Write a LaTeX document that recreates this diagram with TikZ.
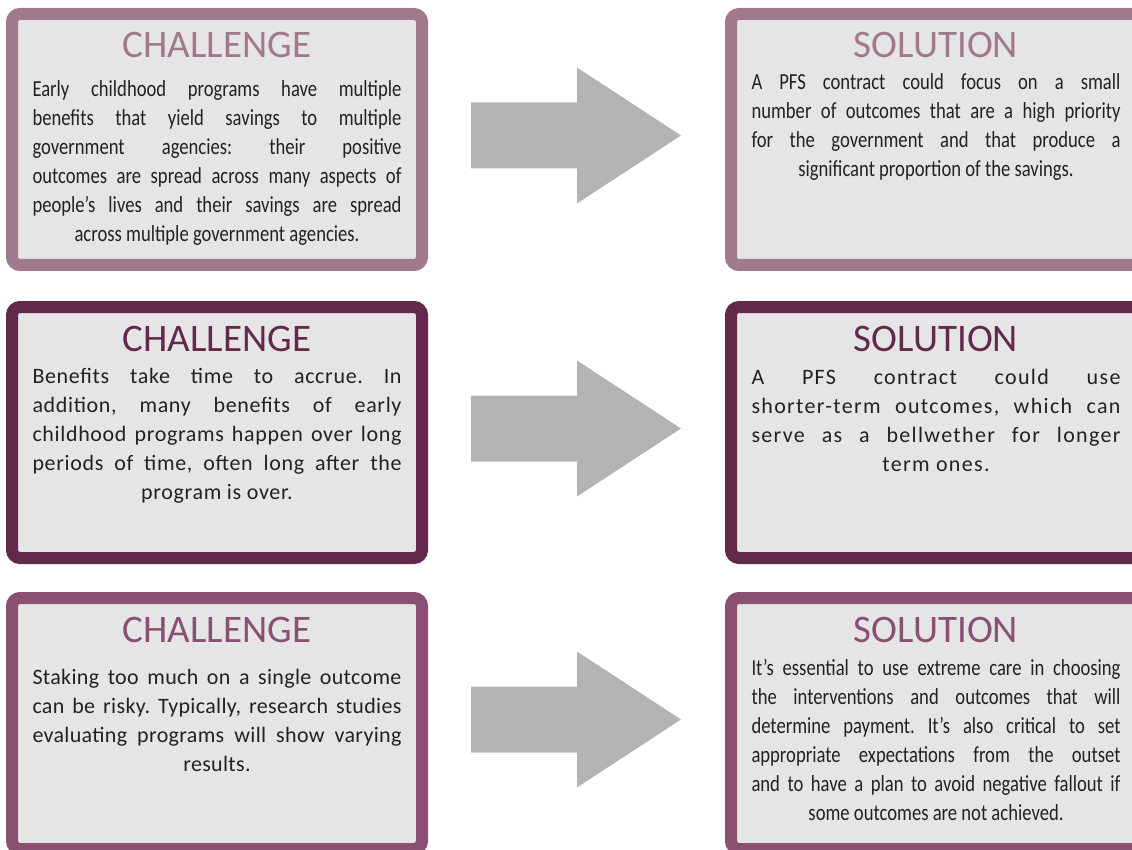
\documentclass[tikz,border=0pt]{standalone}
\usepackage{fontspec}
\usepackage{tikz}
\usetikzlibrary{calc,positioning}
\newfontfamily\headfont{Carlito}
\newfontfamily\narrowfont[FakeStretch=0.81]{Carlito}
\newfontfamily\midfont[LetterSpace=1.5]{Carlito}
\newfontfamily\widefont[LetterSpace=3]{Carlito}
\newfontfamily\widerfont[LetterSpace=6]{Carlito}
\definecolor{mauve}{HTML}{A07A8C}
\definecolor{plum}{HTML}{63294C}
\definecolor{berry}{HTML}{8A5073}
\definecolor{panel}{HTML}{E5E5E5}
\definecolor{arrowgray}{HTML}{B3B3B3}
\definecolor{ink}{HTML}{222222}
% one justified line, one centred line
\newcommand{\jl}[1]{\hbox to 369pt{#1}}
\newcommand{\cl}[1]{\hbox to 369pt{\hfil #1\hfil}}
\hbadness=10000
\frenchspacing
\tikzstyle{card} = [rectangle, line width=12pt, rounded corners=8pt, fill=panel, minimum width=410pt, minimum height=251pt, inner sep=0pt]
\tikzstyle{heading} = [anchor=base, inner sep=0pt, font=\headfont\fontsize{39}{44}\selectfont]
\tikzstyle{body} = [anchor=base, inner sep=0pt, text=ink]
\tikzstyle{bigarrow} = [fill=arrowgray]

\begin{document}
\begin{tikzpicture}[x=1pt,y=-1pt]
	\useasboundingbox (0,0) rectangle (1132,850);
	\clip (0,0) rectangle (1132,850);

	%% the cards, challenges left and solutions right
	\node[card, draw=mauve] (C1) at (217,139.5) {};
	\node[card, draw=plum, below=30pt of C1] (C2) {};
	\node[card, draw=berry, below=28pt of C2] (C3) {};
	\node[card, draw=mauve, right=297pt of C1] (S1) {};
	\node[card, draw=plum, right=297pt of C2] (S2) {};
	\node[card, draw=berry, right=297pt of C3] (S3) {};

	%% headings
	\node[heading, text=mauve] (C1t) at ($(C1.north)+(0,50)$) {CHALLENGE};
	\node[heading, text=plum] (C2t) at ($(C2.north)+(0,50)$) {CHALLENGE};
	\node[heading, text=berry] (C3t) at ($(C3.north)+(0,50)$) {CHALLENGE};
	\node[heading, text=mauve] (S1t) at ($(S1.north)+(0,50)$) {SOLUTION};
	\node[heading, text=plum] (S2t) at ($(S2.north)+(0,50)$) {SOLUTION};
	\node[heading, text=berry] (S3t) at ($(S3.north)+(0,50)$) {SOLUTION};

	%% texts
	\node[body, font=\narrowfont\fontsize{23}{29}\selectfont] (C1b) at ($(C1.north)+(0,89)$)
	  {\vtop{\jl{Early childhood programs have multiple}
	   \jl{benefits that yield savings to multiple}
	   \jl{government agencies: their positive}
	   \jl{outcomes are spread across many aspects of}
	   \jl{people’s lives and their savings are spread}
	   \cl{across multiple government agencies.}}};
	\node[body, font=\widefont\fontsize{22}{29}\selectfont] (C2b) at ($(C2.north)+(0,82)$)
	  {\vtop{\jl{Benefits take time to accrue. In}
	   \jl{addition, many benefits of early}
	   \jl{childhood programs happen over long}
	   \jl{periods of time, often long after the}
	   \cl{program is over.}}};
	\node[body, font=\midfont\fontsize{22}{29}\selectfont] (C3b) at ($(C3.north)+(0,92)$)
	  {\vtop{\jl{Staking too much on a single outcome}
	   \jl{can be risky. Typically, research studies}
	   \jl{evaluating programs will show varying}
	   \cl{results.}}};
	\node[body, font=\narrowfont\fontsize{23}{29}\selectfont] (S1b) at ($(S1.north)+(0,82)$)
	  {\vtop{\jl{A PFS contract could focus on a small}
	   \jl{number of outcomes that are a high priority}
	   \jl{for the government and that produce a}
	   \cl{significant proportion of the savings.}}};
	\node[body, font=\widerfont\fontsize{22}{29}\selectfont] (S2b) at ($(S2.north)+(0,83)$)
	  {\vtop{\jl{A PFS contract could use}
	   \jl{shorter-term outcomes, which can}
	   \jl{serve as a bellwether for longer}
	   \cl{term ones.}}};
	\node[body, font=\narrowfont\fontsize{23}{29}\selectfont] (S3b) at ($(S3.north)+(0,83)$)
	  {\vtop{\jl{It’s essential to use extreme care in choosing}
	   \jl{the interventions and outcomes that will}
	   \jl{determine payment. It’s also critical to set}
	   \jl{appropriate expectations from the outset}
	   \jl{and to have a plan to avoid negative fallout if}
	   \cl{some outcomes are not achieved.}}};

	%% block arrows between the cards
	\foreach \i in {1,2,3}
	{
	  \coordinate (A\i) at ($(C\i.east)+(43,-4)$);
	  \fill[bigarrow] (A\i) ++(0,-33) -- ++(106,0) -- ++(0,-35) -- ++(104,68)
	    -- ++(-104,68) -- ++(0,-35) -- ++(-106,0) -- cycle;
	}
\end{tikzpicture}
\end{document}
